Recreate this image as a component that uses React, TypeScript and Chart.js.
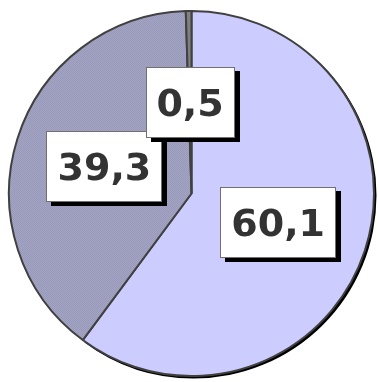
import React, { useEffect, useRef } from "react";
import { Chart, registerables } from "chart.js";

Chart.register(...registerables);

const categories = ["Part 1", "Part 2", "Part 3"];
const values = [60.1, 39.3, 0.5];
const valueLabels = values.map((v) => v.toFixed(1).replace(".", ","));
const sliceColors = ["#ccccff", "PATTERN", "#808080"];

function makePattern(ctx: CanvasRenderingContext2D): CanvasPattern | string {
  const c = document.createElement("canvas");
  c.width = 2;
  c.height = 2;
  const g = c.getContext("2d");
  if (!g) return "#a0a0c0";
  g.fillStyle = "#a4a4c4";
  g.fillRect(0, 0, 2, 2);
  g.fillStyle = "#9898b8";
  g.fillRect(0, 0, 1, 1);
  g.fillRect(1, 1, 1, 1);
  return ctx.createPattern(c, "repeat") || "#a0a0c0";
}

const shadowPlugin = {
  id: "sliceShadow",
  beforeDatasetsDraw(chart: any) {
    const meta = chart.getDatasetMeta(0);
    const arc = meta.data[0];
    if (!arc) return;
    const { x, y, outerRadius, startAngle, endAngle } = arc.getProps(
      ["x", "y", "outerRadius", "startAngle", "endAngle"],
      true
    );
    const ctx = chart.ctx;
    ctx.save();
    ctx.fillStyle = "#000000";
    ctx.beginPath();
    ctx.moveTo(x + 2, y + 2);
    ctx.arc(x + 2, y + 2, outerRadius + 0.5, startAngle, endAngle);
    ctx.closePath();
    ctx.fill();
    ctx.restore();
  },
};

const labelPlugin = {
  id: "boxLabels",
  afterDatasetsDraw(chart: any) {
    const meta = chart.getDatasetMeta(0);
    const ctx = chart.ctx;
    ctx.save();
    const fontSize = 38;
    ctx.font = `bold ${fontSize}px "DejaVu Sans", Verdana, sans-serif`;
    meta.data.forEach((arc: any, i: number) => {
      const { x, y, outerRadius, startAngle, endAngle } = arc.getProps(
        ["x", "y", "outerRadius", "startAngle", "endAngle"],
        true
      );
      const mid = (startAngle + endAngle) / 2;
      const r = outerRadius * 0.5;
      const cx = x + Math.cos(mid) * r;
      const cy = y + Math.sin(mid) * r;
      const text = valueLabels[i];
      const tw = ctx.measureText(text).width;
      const w = Math.round(tw + 22);
      const h = 71;
      const bx = Math.round(cx - w / 2);
      const by = Math.round(cy - h / 2);
      ctx.fillStyle = "#000000";
      ctx.fillRect(bx + 5, by + 4, w, h);
      ctx.fillStyle = "#ffffff";
      ctx.fillRect(bx, by, w, h);
      ctx.strokeStyle = "#707070";
      ctx.lineWidth = 1;
      ctx.strokeRect(bx + 0.5, by + 0.5, w - 1, h - 1);
      ctx.fillStyle = "#333333";
      ctx.textAlign = "center";
      ctx.textBaseline = "alphabetic";
      ctx.fillText(text, cx, cy + fontSize * 0.729 / 2);
    });
    ctx.restore();
  },
};

export default function App() {
  const ref = useRef<HTMLCanvasElement | null>(null);
  useEffect(() => {
    const canvas = ref.current;
    if (!canvas) return;
    const ctx = canvas.getContext("2d");
    if (!ctx) return;
    const pattern = makePattern(ctx);
    const colors = sliceColors.map((c) => (c === "PATTERN" ? pattern : c));
    const chart = new Chart(canvas, {
      type: "pie",
      data: {
        labels: categories,
        datasets: [
          {
            data: values,
            backgroundColor: colors as any,
            borderColor: "#404040",
            borderWidth: 2,
          },
        ],
      },
      options: {
        animation: false,
        responsive: false,
        maintainAspectRatio: false,
        rotation: 0,
        layout: { padding: { left: 8, right: 4, top: 8, bottom: 3 } },
        plugins: {
          legend: { display: false },
          tooltip: { enabled: false },
        },
      },
      plugins: [shadowPlugin, labelPlugin],
    });
    return () => chart.destroy();
  }, []);
  return (
    <div style={{ position: "fixed", left: 0, top: 0, width: 379, height: 382, background: "#ffffff" }}>
      <canvas ref={ref} width={379} height={382} style={{ width: 379, height: 382, display: "block" }} />
    </div>
  );
}
